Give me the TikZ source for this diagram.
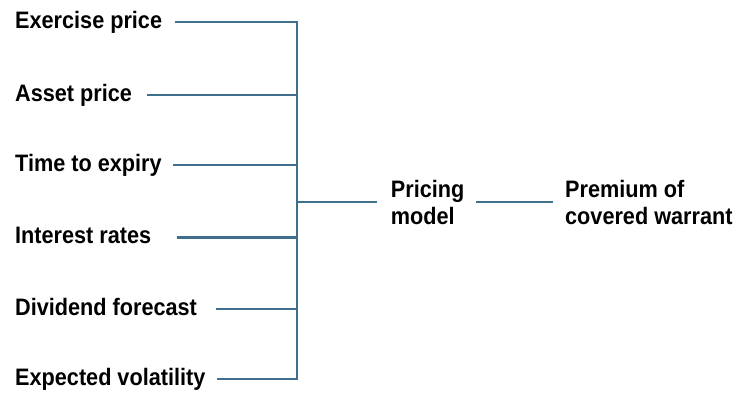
\documentclass[tikz,border=0pt]{standalone}
\usepackage{fontspec}
\setmainfont{Liberation Sans}[FakeStretch=0.91]
\definecolor{wireblue}{HTML}{3F6F8C}
\begin{document}
\begin{tikzpicture}[x=1pt,y=-1pt,
  wire/.style={draw=wireblue,line width=2.2pt,line join=miter},
  lbl/.style={anchor=west,inner sep=0pt,font=\fontsize{23.8}{27}\selectfont\bfseries,
    text height=17pt,text depth=5pt},
  lbl2/.style={anchor=west,inner sep=0pt,align=left,
    font=\fontsize{23.8}{27}\selectfont\bfseries}]
\useasboundingbox (0,0) rectangle (742,392);

% input factors
\node[lbl] (ex) at (15,22)    {Exercise price};
\node[lbl] (as) at (15,95)    {Asset price};
\node[lbl] (ti) at (15,165)   {Time to expiry};
\node[lbl] (ir) at (15,237.5) {Interest rates};
\node[lbl] (dv) at (15,309)   {Dividend forecast};
\node[lbl] (ev) at (15,379)   {Expected volatility};

% collecting bus
\coordinate (bus) at (297,202);

% model and result
\node[lbl2] (pm) at (390.7,202) {Pricing\\model};
\node[lbl2] (pr) at (565,202)   {Premium of\\covered warrant};

% bus with top and bottom branches
\draw[wire] ([xshift=13pt]ex.east) -- (ex.east -| bus) -- (ev.east -| bus) -- ([xshift=11.5pt]ev.east);
% remaining branches
\draw[wire] ([xshift=15pt]as.east) -- (as.east -| bus);
\draw[wire] ([xshift=11pt]ti.east) -- (ti.east -| bus);
\draw[wire] ([xshift=26pt]ir.east) -- (ir.east -| bus);
\draw[wire] ([xshift=19pt]dv.east) -- (dv.east -| bus);

% bus to model to result
\draw[wire] (bus) -- ([xshift=-13.5pt]pm.west);
\draw[wire] ([xshift=11pt]pm.east) -- ([xshift=-12pt]pr.west);
\end{tikzpicture}
\end{document}
